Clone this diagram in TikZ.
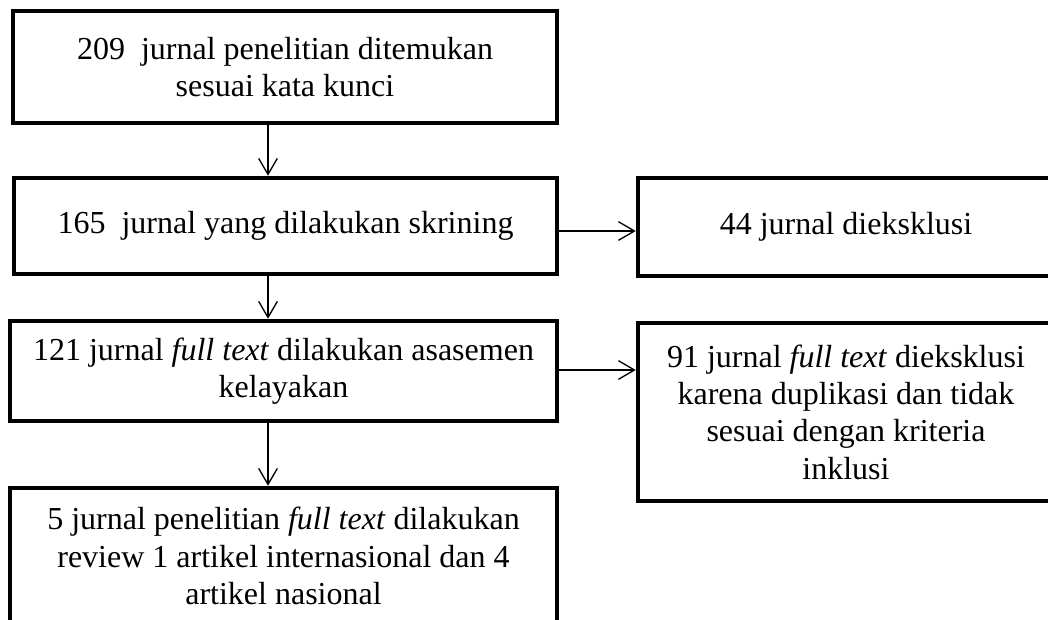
\documentclass[tikz,border=0pt]{standalone}
\usepackage{fontspec}
\setmainfont{Liberation Serif}
\usetikzlibrary{arrows.meta}
\begin{document}
\begin{tikzpicture}[x=0.75pt,y=-0.75pt,
  box/.style={draw, line width=3.4pt, rectangle, inner sep=0pt, outer sep=0pt, align=center, font=\fontsize{24}{28}\selectfont},
  arr/.style={line width=1pt, shorten >=1.7pt, -{Straight Barb[length=12pt,width=14pt,line width=1pt]}}]
\clip (0,0) rectangle (1048,619);
\fill[white] (0,0) rectangle (1048,619);
\node[box, minimum width=408pt, minimum height=84pt] (b1) at (285,67) {209~~jurnal penelitian ditemukan\\sesuai kata kunci};
\node[box, minimum width=407.25pt, minimum height=72pt] (b2) at (285.5,226) {165~~jurnal yang dilakukan skrining};
\node[box, minimum width=312pt, minimum height=73.5pt] (b3) at (846,227) {44 jurnal dieksklusi};
\node[box, minimum width=410.25pt, minimum height=75pt] (b4) at (283.5,371) {121 jurnal \textit{full text} dilakukan asasemen\\kelayakan};
\node[box, minimum width=312pt, minimum height=133.5pt] (b5) at (846,412) {91 jurnal \textit{full text} dieksklusi\\karena duplikasi dan tidak\\sesuai dengan kriteria\\inklusi};
\node[box, minimum width=410.25pt, minimum height=102pt] (b6) at (283.5,556) {5 jurnal penelitian \textit{full text} dilakukan\\review 1 artikel internasional dan 4\\artikel nasional};
\coordinate (ax) at (268,0);
\coordinate (ay1) at (0,231);
\coordinate (ay2) at (0,370);
\draw[arr] (b1.south -| ax) -- (b2.north -| ax);
\draw[arr] (b2.south -| ax) -- (b4.north -| ax);
\draw[arr] (b4.south -| ax) -- (b6.north -| ax);
\draw[arr] (b2.east |- ay1) -- (b3.west |- ay1);
\draw[arr] (b4.east |- ay2) -- (b5.west |- ay2);
\end{tikzpicture}
\end{document}
